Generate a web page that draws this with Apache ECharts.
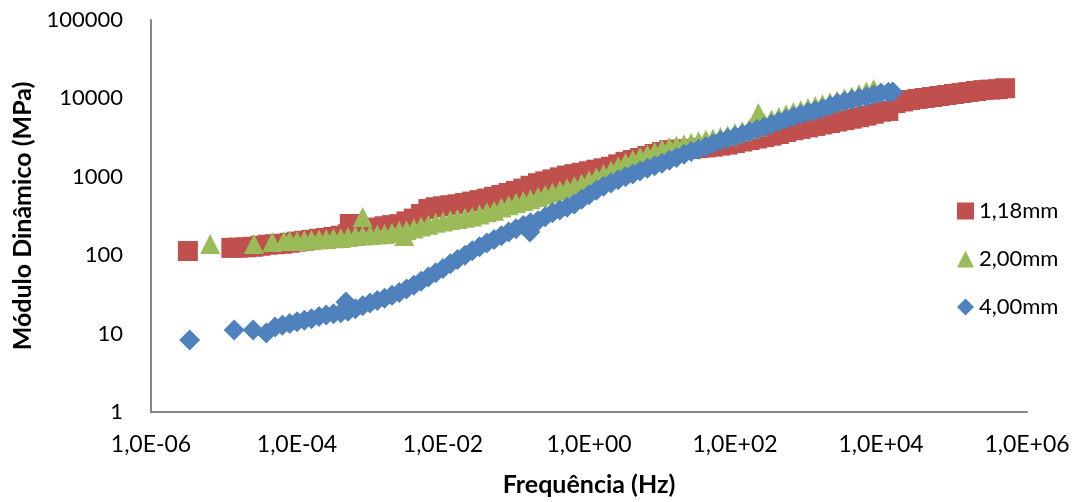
<!DOCTYPE html>
<html>
<head>
<meta charset="utf-8">
<script src="https://cdn.jsdelivr.net/npm/echarts@6/dist/echarts.min.js"></script>
<style>
  html, body { margin: 0; padding: 0; background: #fff; }
  #chart { width: 1077px; height: 502px; }
</style>
</head>
<body>
<div id="chart"></div>
<script>
// [frequência (Hz), módulo dinâmico (MPa)]
const data118 = [
  [3.2e-6, 113],
  [1.26e-5, 124], [1.58e-5, 125], [2.0e-5, 126], [2.51e-5, 128], [3.16e-5, 132], [3.98e-5, 136], [5.01e-5, 138], [6.31e-5, 140], [7.94e-5, 144],
  [1e-4, 149], [1.26e-4, 153], [1.58e-4, 157], [2.0e-4, 162], [2.51e-4, 166], [3.16e-4, 171], [3.98e-4, 177], [5.01e-4, 185], [5.3e-4, 250], [6.31e-4, 193], [7.94e-4, 204],
  [1e-3, 216], [1.26e-3, 225], [1.58e-3, 234], [2.0e-3, 242], [2.51e-3, 249], [3.16e-3, 270], [3.98e-3, 293], [5.01e-3, 335], [6.31e-3, 388], [7.94e-3, 409],
  [1e-2, 421], [1.26e-2, 434], [1.58e-2, 446], [2.0e-2, 463], [2.51e-2, 483], [3.16e-2, 504], [3.98e-2, 527], [5.01e-2, 556], [6.31e-2, 587], [7.94e-2, 621],
  [0.1, 661], [0.126, 708], [0.158, 769], [0.2, 828], [0.251, 875], [0.316, 927], [0.398, 984], [0.501, 1038], [0.631, 1081], [0.794, 1127],
  [1, 1178], [1.26, 1233], [1.58, 1285], [2.0, 1343], [2.51, 1442], [3.16, 1552], [3.98, 1641], [5.01, 1738], [6.31, 1845], [7.94, 1954],
  [10, 2070], [12.6, 2188], [15.8, 2223], [20, 2244], [25.1, 2270], [31.6, 2323], [39.8, 2371], [50.1, 2427], [63.1, 2500], [79.4, 2576],
  [100, 2698], [126, 2818], [158, 2944], [200, 3076], [251, 3206], [316, 3342], [398, 3516], [501, 3724], [631, 3917], [794, 4083],
  [1000, 4266], [1260, 4457], [1580, 4656], [2000, 4853], [2510, 5070], [3160, 5284], [3980, 5508], [5010, 5754], [6310, 6026], [7940, 6368],
  [1e4, 6761], [1.26e4, 6918], [1.58e4, 8710], [2.0e4, 9141], [2.51e4, 9550], [3.16e4, 9840], [3.98e4, 10120], [5.01e4, 10420], [6.31e4, 10740], [7.94e4, 11040],
  [1e5, 11380], [1.26e5, 11700], [1.58e5, 12050], [2.0e5, 12420], [2.51e5, 12760], [3.16e5, 12940], [3.98e5, 13120], [5.01e5, 13490],
];

const data200 = [
  [6.46e-6, 139], [2.57e-5, 139], [4.57e-5, 147], [6.61e-5, 152], [7.94e-5, 152],
  [1e-4, 152], [1.26e-4, 155], [1.58e-4, 157], [2.0e-4, 159], [2.51e-4, 161], [3.16e-4, 164], [3.98e-4, 166], [5.01e-4, 171], [6.31e-4, 176], [7.94e-4, 179], [7.94e-4, 307],
  [1e-3, 181], [1.26e-3, 184], [1.58e-3, 186], [2.0e-3, 194], [2.51e-3, 203], [2.95e-3, 176], [3.16e-3, 208], [3.98e-3, 219], [5.01e-3, 232], [6.31e-3, 245], [7.94e-3, 259],
  [1e-2, 270], [1.26e-2, 281], [1.58e-2, 290], [2.0e-2, 300], [2.51e-2, 312], [3.16e-2, 331], [3.98e-2, 352], [5.01e-2, 368], [6.31e-2, 406], [7.94e-2, 433],
  [0.1, 462], [0.126, 491], [0.158, 519], [0.2, 552], [0.251, 592], [0.316, 631], [0.398, 670], [0.501, 713], [0.631, 766], [0.794, 824],
  [1, 902], [1.26, 986], [1.58, 1089], [2.0, 1199], [2.51, 1349], [3.16, 1514], [3.98, 1648], [5.01, 1791], [6.31, 1923], [7.94, 2070],
  [10, 2239], [12.6, 2388], [15.8, 2495], [20, 2606], [25.1, 2716], [31.6, 2838], [39.8, 2958], [50.1, 3090], [63.1, 3221], [79.4, 3373],
  [100, 3581], [126, 3802], [158, 4093], [200, 4395], [209, 6510], [251, 4875], [316, 5383], [398, 5808], [501, 6266], [631, 6699], [794, 7079],
  [1000, 7534], [1260, 7980], [1580, 8433], [2000, 8913], [2510, 9376], [3160, 9954], [3980, 10570], [5010, 11380], [6310, 12220], [7940, 13180],
];

const data400 = [
  [3.39e-6, 8.28], [1.38e-5, 11.1], [2.51e-5, 11.1], [3.8e-5, 10.2],
  [5.01e-5, 12.1], [6.31e-5, 12.8], [7.94e-5, 13.5],
  [1e-4, 14.2], [1.26e-4, 14.8], [1.58e-4, 15.5], [2.0e-4, 16.5], [2.51e-4, 17.3], [3.16e-4, 17.9], [3.98e-4, 18.5], [4.68e-4, 25.3], [5.01e-4, 19.3], [6.31e-4, 20.8], [7.94e-4, 22.6],
  [1e-3, 24.5], [1.26e-3, 26.4], [1.58e-3, 28.2], [2.0e-3, 30.8], [2.51e-3, 33.4], [3.16e-3, 37.0], [3.98e-3, 41.5], [5.01e-3, 46.7], [6.31e-3, 52.7], [7.94e-3, 59.6],
  [1e-2, 67.9], [1.26e-2, 77.6], [1.58e-2, 88.3], [2.0e-2, 100], [2.51e-2, 114], [3.16e-2, 128], [3.98e-2, 143], [5.01e-2, 159], [6.31e-2, 177], [7.94e-2, 197],
  [0.1, 218], [0.126, 240], [0.155, 198], [0.158, 259], [0.2, 276], [0.251, 310], [0.316, 348], [0.398, 376], [0.501, 410], [0.631, 451], [0.794, 519],
  [1, 590], [1.26, 673], [1.58, 755], [2.0, 832], [2.51, 914], [3.16, 1000], [3.98, 1089], [5.01, 1183], [6.31, 1285], [7.94, 1384],
  [10, 1493], [12.6, 1622], [15.8, 1766], [20, 1936], [25.1, 2099], [31.6, 2249], [39.8, 2415], [50.1, 2636], [63.1, 2884], [79.4, 3069],
  [100, 3266], [126, 3491], [158, 3758], [200, 4036], [251, 4325], [316, 4667], [398, 5035], [501, 5420], [631, 5821], [794, 6237],
  [1000, 6622], [1260, 6934], [1580, 7362], [2000, 7998], [2510, 8650], [3160, 9162], [3980, 9638], [5010, 10020], [6310, 10500], [7940, 11090],
  [1e4, 11720], [1.26e4, 11940], [1.45e4, 12070],
];

const seriesNames = ["1,18mm", "2,00mm", "4,00mm"];
const seriesColors = ["#C0504D", "#9BBB59", "#4F81BD"];

const FONT = "Lato, 'Open Sans', sans-serif";

// formata 1e-6 -> "1,0E-06"
function fmtExp(v) {
  const e = Math.round(Math.log10(v));
  return "1,0E" + (e < 0 ? "-" : "+") + String(Math.abs(e)).padStart(2, "0");
}

const chart = echarts.init(document.getElementById("chart"));

const option = {
  animation: false,
  backgroundColor: "#fff",
  grid: { left: 151, right: 50, top: 20, bottom: 90 },
  legend: {
    orient: "vertical",
    left: 952,
    top: 194,
    itemWidth: 17,
    itemHeight: 17,
    itemGap: 24,
    textStyle: { fontFamily: FONT, fontSize: 22, color: "#000", lineHeight: 24 },
    data: seriesNames,
  },
  xAxis: {
    type: "log",
    logBase: 10,
    min: 1e-6,
    max: 1e6,
    interval: 2,
    name: "Frequência (Hz)",
    nameLocation: "middle",
    nameGap: 60,
    nameTextStyle: { fontFamily: FONT, fontSize: 25, fontWeight: "bold", color: "#000" },
    axisLine: { lineStyle: { color: "#868686", width: 2 } },
    axisTick: { show: false },
    splitLine: { show: false },
    axisLabel: { fontFamily: FONT, fontSize: 23, color: "#000", margin: 21, formatter: fmtExp },
  },
  yAxis: {
    type: "log",
    logBase: 10,
    min: 1,
    max: 100000,
    interval: 1,
    name: "Módulo Dinâmico (MPa)",
    nameLocation: "middle",
    nameGap: 108,
    nameTextStyle: { fontFamily: FONT, fontSize: 25, fontWeight: "bold", color: "#000" },
    axisLine: { show: true, lineStyle: { color: "#868686", width: 2 } },
    axisTick: { show: false },
    splitLine: { show: false },
    axisLabel: {
      fontFamily: FONT, fontSize: 22, color: "#000", margin: 28,
      formatter: (v) => String(Math.round(v)),
    },
  },
  series: [
    { name: seriesNames[0], type: "scatter", symbol: "rect", symbolSize: 20, data: data118 },
    { name: seriesNames[1], type: "scatter", symbol: "triangle", symbolSize: [20, 20], data: data200 },
    { name: seriesNames[2], type: "scatter", symbol: "diamond", symbolSize: 21, data: data400 },
  ].map((s, i) => ({ ...s, itemStyle: { color: seriesColors[i], opacity: 1 } })),
};

chart.setOption(option);
</script>
</body>
</html>
